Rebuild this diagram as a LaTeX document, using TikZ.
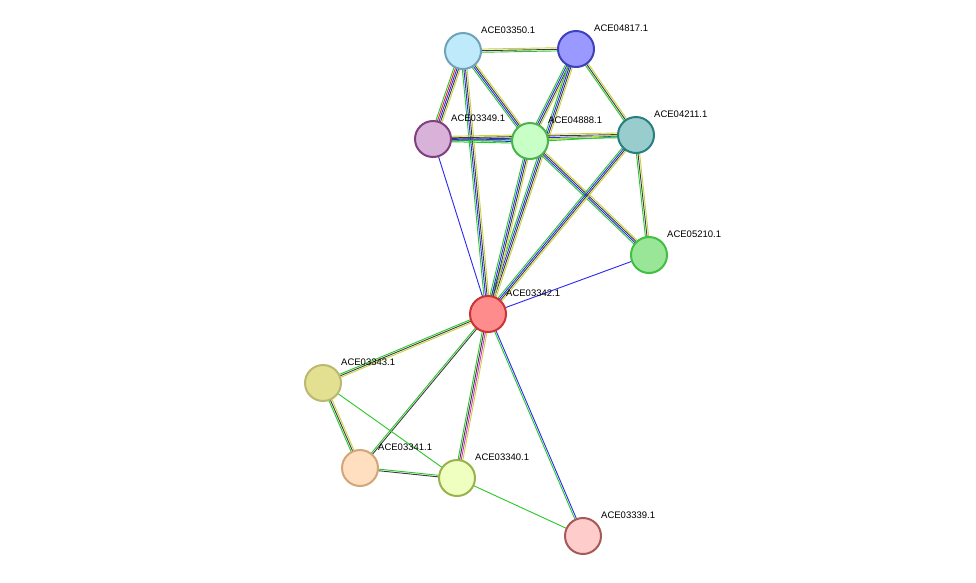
\documentclass[tikz,border=0pt]{standalone}
\usepackage{fontspec}
\setmainfont{Liberation Sans}
\usetikzlibrary{calc}
\definecolor{eG}{RGB}{40,200,40}
\definecolor{eK}{RGB}{60,60,60}
\definecolor{eB}{RGB}{40,40,240}
\definecolor{eY}{RGB}{200,210,60}
\definecolor{eR}{RGB}{240,30,30}
\definecolor{eM}{RGB}{220,40,220}
\tikzset{prot/.style={circle,minimum size=36pt,inner sep=0pt,line width=2pt},
 lab/.style={anchor=south west,font=\fontsize{9.5}{10}\selectfont,inner sep=0pt}}
\newcommand\medge[3]{\foreach \c/\o in {#3}{\draw[\c,line width=0.9pt] ($(#1)!\o pt!90:(#2)$) -- ($(#2)!\o pt!-90:(#1)$);}}
\begin{document}
\begin{tikzpicture}[x=1pt,y=-1pt]
\useasboundingbox (0,0) rectangle (976,582);
\fill[white] (0,0) rectangle (976,582);
\coordinate (n50) at (463,51);
\coordinate (n17) at (576,49);
\coordinate (n49) at (433,139);
\coordinate (n88) at (530,141);
\coordinate (n11) at (636,135);
\coordinate (n10) at (649,255);
\coordinate (n42) at (488,314);
\coordinate (n43) at (323,383);
\coordinate (n41) at (360,468);
\coordinate (n40) at (457,478);
\coordinate (n39) at (583,536);
\medge{n50}{n17}{eG/-1.6,eK/0,eY/1.6}
\medge{n50}{n49}{eG/-3.2,eR/-1.6,eB/0,eK/1.6,eY/3.2}
\medge{n50}{n88}{eG/-2.4,eB/-0.8,eK/0.8,eY/2.4}
\medge{n50}{n42}{eG/-2.4,eB/-0.8,eK/0.8,eY/2.4}
\medge{n17}{n88}{eG/-2.4,eB/-0.8,eK/0.8,eY/2.4}
\medge{n17}{n42}{eG/-2.4,eB/-0.8,eK/0.8,eY/2.4}
\medge{n17}{n11}{eG/-1.6,eK/0,eY/1.6}
\medge{n49}{n88}{eG/-2.4,eB/-0.8,eK/0.8,eY/2.4}
\medge{n49}{n11}{eG/-2.4,eB/-0.8,eK/0.8,eY/2.4}
\medge{n49}{n42}{eB/0}
\medge{n88}{n11}{eG/-0.8,eY/0.8}
\medge{n88}{n10}{eG/-2.4,eB/-0.8,eK/0.8,eY/2.4}
\medge{n88}{n42}{eG/-2.4,eB/-0.8,eK/0.8,eY/2.4}
\medge{n11}{n10}{eG/-1.6,eK/0,eY/1.6}
\medge{n11}{n42}{eG/-2.4,eB/-0.8,eK/0.8,eY/2.4}
\medge{n10}{n42}{eB/0}
\medge{n42}{n43}{eG/-1.6,eK/0,eY/1.6}
\medge{n42}{n41}{eG/-0.8,eK/0.8}
\medge{n42}{n40}{eG/-2.4,eK/-0.8,eM/0.8,eY/2.4}
\medge{n42}{n39}{eG/-0.8,eB/0.8}
\medge{n43}{n41}{eG/-1.6,eK/0,eY/1.6}
\medge{n43}{n40}{eG/0}
\medge{n41}{n40}{eK/-0.8,eG/0.8}
\medge{n40}{n39}{eG/0}
\newcommand\prot[5]{\node[prot,fill=#3,draw=#4] (p#1) at (#1) {};
 \node[lab] (l#1) at ($(#1)+(18,-17)$) {#5};}
\prot{n50}{}{cyan!25}{cyan!40!gray}{ACE03350.1}
\prot{n17}{}{blue!40!white}{blue!50!gray}{ACE04817.1}
\prot{n49}{}{violet!30!white}{violet!50!gray}{ACE03349.1}
\prot{n88}{}{green!22!white}{green!40!gray}{ACE04888.1}
\prot{n11}{}{teal!40!white}{teal!70!gray}{ACE04211.1}
\prot{n10}{}{green!60!gray!50!white}{green!50!gray}{ACE05210.1}
\prot{n42}{}{red!45!white}{red!60!gray}{ACE03342.1}
\prot{n43}{}{yellow!60!gray!60!white}{yellow!40!gray}{ACE03343.1}
\prot{n41}{}{orange!25!white}{brown!70!white}{ACE03341.1}
\prot{n40}{}{lime!25!white}{lime!40!gray}{ACE03340.1}
\prot{n39}{}{red!20!white}{red!30!gray}{ACE03339.1}
\end{tikzpicture}
\end{document}
